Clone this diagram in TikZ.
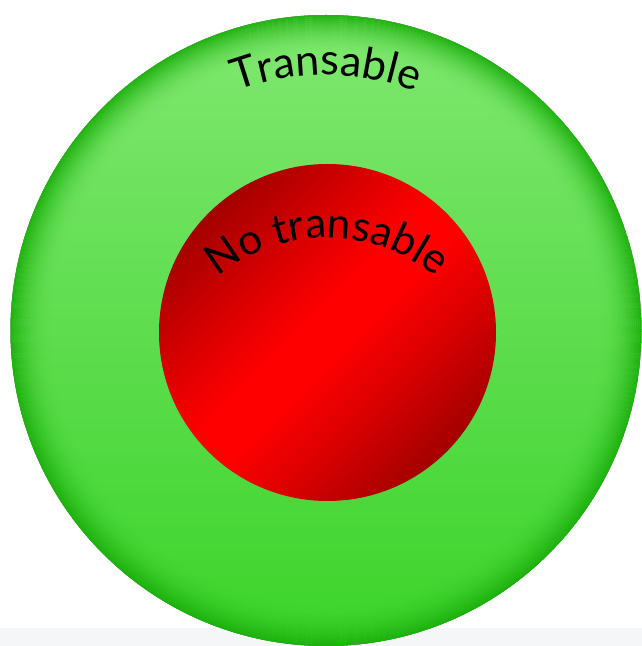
\documentclass[tikz,border=0pt]{standalone}
\usepackage{fontspec}
\newfontfamily\labfont{Lato}
\usetikzlibrary{decorations.text,calc}
\definecolor{gtop}{HTML}{80E870}
\definecolor{gmid}{HTML}{5EDD4E}
\definecolor{gbot}{HTML}{3CD42B}
\definecolor{grim}{HTML}{1AAE0B}
\definecolor{rdark}{HTML}{960000}
\definecolor{rmid}{HTML}{DC0000}
\definecolor{rbright}{HTML}{FF0000}
\definecolor{bgstrip}{HTML}{F5F6F8}
\pgfdeclarehorizontalshading{redband}{100bp}{color(0bp)=(rdark); color(22bp)=(rdark); color(38bp)=(rmid); color(47bp)=(rbright); color(53bp)=(rbright); color(62bp)=(rmid); color(78bp)=(rdark); color(100bp)=(rdark)}
\tikzset{
  labeltext/.style 2 args={decorate, decoration={text along path, text align=center, text={|\labfont\fontsize{#1}{#1}\selectfont|#2}}}
}
\begin{document}
\begin{tikzpicture}[x=1pt,y=1pt]
\useasboundingbox (0,0) rectangle (642,646);
\fill[bgstrip] (0,0) rectangle (642,18);
\coordinate (gc) at (326,315.5);
\coordinate (rc) at (327.5,313.5);
\coordinate (tc) at (327,238);
\fill[top color=gtop, bottom color=gbot, middle color=gmid] (gc) circle (315.5);
\begin{scope}
  \clip (gc) circle (315.5);
  \foreach \i [evaluate=\i as \op using {0.9*(1-\i/20)^2}, evaluate=\i as \rr using {314.5-2*\i}] in {0,...,19}
    \draw[grim, line width=2.05pt, opacity=\op] (gc) circle (\rr);
\end{scope}
\shade[shading=redband, shading angle=-45] (rc) circle (168.5);
\path[labeltext={43}{Transable}] ($(gc)+(160:255.5)$) arc (160:20:255.5);
\path[labeltext={42}{No transable}] ($(tc)+(160:170)$) arc (160:20:170);
\end{tikzpicture}
\end{document}
